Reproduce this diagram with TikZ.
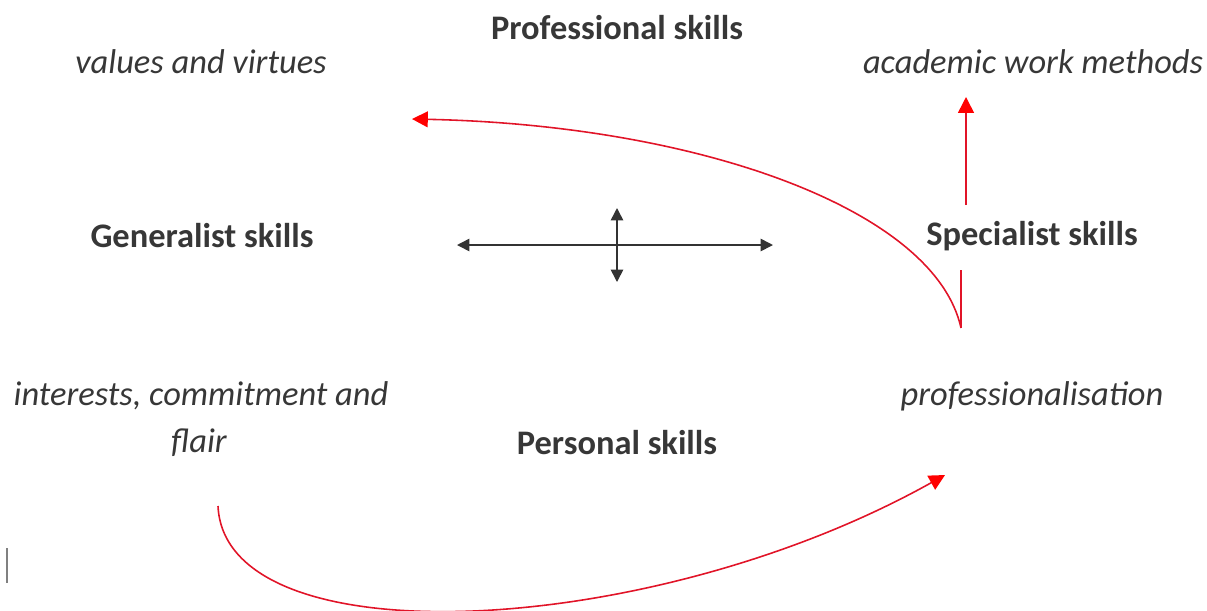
\documentclass[tikz,border=0pt]{standalone}
\usepackage{fontspec}
\setmainfont{Carlito}
\usetikzlibrary{arrows.meta}
\definecolor{txt}{RGB}{55,55,55}
\definecolor{redline}{RGB}{225,20,40}
\begin{document}
\begin{tikzpicture}[x=0.02cm,y=-0.02cm,
  bold/.style={font=\fontsize{19.6}{24}\selectfont\bfseries, text=txt, inner sep=0pt},
  ital/.style={font=\fontsize{19.6}{24}\selectfont\itshape, text=txt, inner sep=0pt},
  redarrow/.style={draw=redline, line width=0.9pt, -{Triangle[length=9pt,width=9pt,fill=red,color=red]}},
  blackarrow/.style={draw=black!80, line width=0.9pt, {Triangle[length=7pt,width=7pt]}-{Triangle[length=7pt,width=7pt]}}]
\useasboundingbox (0,0) rectangle (1207,610);
% texts
\node[bold] (prof) at (617,28) {Professional skills};
\node[ital] (vals) at (201,62) {values and virtues};
\node[ital] (acad) at (1033,62) {academic work methods};
\node[bold] (gen) at (202,236) {Generalist skills};
\node[bold] (spec) at (1032,236) {Specialist skills};
\node[ital] (inter) at (201,396) {interests, commitment and};
\node[ital] (flair) at (199,443) {flair};
\node[ital] (profn) at (1032,396) {professionalisation};
\node[bold] (pers) at (617,443) {Personal skills};
% cross
\coordinate (hl) at (457,245);
\coordinate (hr) at (773,245);
\coordinate (vt) at (617,208);
\coordinate (vb) at (617,282);
\draw[blackarrow] (hl) -- (hr);
\draw[blackarrow] (vt) -- (vb);
% red arrows
\coordinate (s1) at (966,205);
\coordinate (e1) at (966,97);
\draw[redarrow] (s1) -- (e1);
\coordinate (s2a) at (961,270);
\coordinate (s2) at (961,328);
\coordinate (e2) at (412,119);
\draw[draw=redline, line width=0.9pt] (s2a) -- (s2);
\draw[redarrow] (s2) .. controls (935,210) and (700,125) .. (e2);
\coordinate (s3) at (218,506);
\coordinate (e3) at (945,475);
\draw[redarrow] (s3) .. controls (225,660) and (650,640) .. (e3);
% small gray bar
\coordinate (g1) at (7,548);
\coordinate (g2) at (7,583);
\draw[gray, line width=1.2pt] (g1) -- (g2);
\end{tikzpicture}
\end{document}
